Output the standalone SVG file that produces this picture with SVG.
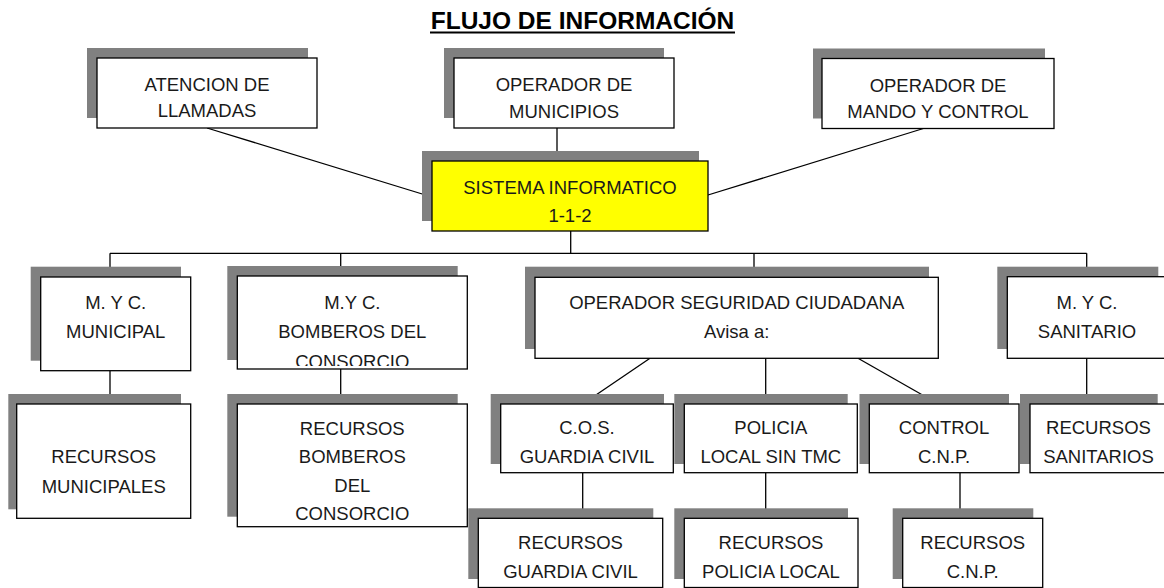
<svg xmlns="http://www.w3.org/2000/svg" width="1164" height="588" viewBox="0 0 1164 588">
<defs>
<style>
.sh{fill:#808080;stroke:none}
.bx{fill:#fff;stroke:#000;stroke-width:1.3}
.yl{fill:#ffff00;stroke:#000;stroke-width:1.3}
.t{font-family:"Liberation Sans",Arial,sans-serif;font-size:18.5px;fill:#1a1a1a;text-anchor:middle}
.ttl{font-family:"Liberation Sans",Arial,sans-serif;font-size:24.5px;font-weight:bold;fill:#000;text-anchor:middle}
.ln{stroke:#000;stroke-width:1.3;fill:none}
</style>
<clipPath id="clipBomb"><rect x="238" y="277" width="229" height="89"/></clipPath>
</defs>
<rect width="1164" height="588" fill="#fff"/>

<g id="title">
<text class="ttl" x="582.5" y="28.5">FLUJO DE INFORMACIÓN</text>
<line x1="430" y1="32.5" x2="735" y2="32.5" stroke="#000" stroke-width="2"/>
</g>

<g id="connectors">
<line class="ln" x1="207" y1="128" x2="432" y2="197"/>
<line class="ln" x1="557" y1="128" x2="557" y2="161"/>
<line class="ln" x1="925" y1="128" x2="708" y2="195"/>
<line class="ln" x1="570.7" y1="231" x2="570.7" y2="253.3"/>
<line class="ln" x1="110" y1="253.3" x2="1086.7" y2="253.3"/>
<line class="ln" x1="110" y1="253.3" x2="110" y2="277"/>
<line class="ln" x1="340.7" y1="253.3" x2="340.7" y2="276"/>
<line class="ln" x1="754" y1="253.3" x2="754" y2="277.3"/>
<line class="ln" x1="1086.7" y1="253.3" x2="1086.7" y2="276.7"/>
<line class="ln" x1="110" y1="370.7" x2="110" y2="404"/>
<line class="ln" x1="340.7" y1="369" x2="340.7" y2="404"/>
<line class="ln" x1="765.7" y1="358.3" x2="765.7" y2="404"/>
<line class="ln" x1="1086.7" y1="358.3" x2="1086.7" y2="404"/>
<line class="ln" x1="650" y1="358.3" x2="582.7" y2="404"/>
<line class="ln" x1="858" y1="358.3" x2="938.3" y2="404"/>
<line class="ln" x1="582.7" y1="472.7" x2="582.7" y2="518.3"/>
<line class="ln" x1="765.7" y1="472.7" x2="765.7" y2="518.3"/>
<line class="ln" x1="960" y1="472.7" x2="960" y2="518.3"/>
</g>

<g id="atencion">
<rect class="sh" x="87" y="48" width="221" height="70"/>
<rect class="bx" x="97" y="58" width="220" height="70"/>
<text class="t" x="207" y="90.5">ATENCION DE</text>
<text class="t" x="207" y="117">LLAMADAS</text>
</g>

<g id="op-municipios">
<rect class="sh" x="444" y="48" width="220" height="70"/>
<rect class="bx" x="454" y="58" width="220" height="70"/>
<text class="t" x="564" y="91">OPERADOR DE</text>
<text class="t" x="564" y="117.5">MUNICIPIOS</text>
</g>

<g id="op-mando">
<rect class="sh" x="813" y="48.5" width="232" height="70"/>
<rect class="bx" x="822" y="58.5" width="232" height="70"/>
<text class="t" x="938" y="91.5">OPERADOR DE</text>
<text class="t" x="938" y="118">MANDO Y CONTROL</text>
</g>

<g id="sistema">
<rect class="sh" x="422" y="151" width="277" height="70"/>
<rect class="yl" x="432" y="161" width="276" height="70"/>
<text class="t" x="570" y="194">SISTEMA INFORMATICO</text>
<text class="t" x="570" y="221.5">1-1-2</text>
</g>

<g id="myc-municipal">
<rect class="sh" x="30.7" y="266.7" width="150.3" height="94"/>
<rect class="bx" x="40.7" y="277" width="150" height="93.7"/>
<text class="t" x="115.7" y="309">M. Y C.</text>
<text class="t" x="115.7" y="338.3">MUNICIPAL</text>
</g>

<g id="myc-bomberos">
<rect class="sh" x="227.3" y="266" width="230.4" height="94"/>
<rect class="bx" x="237.3" y="276" width="230" height="93"/>
<g clip-path="url(#clipBomb)">
<text class="t" x="352.3" y="308.5">M.Y C.</text>
<text class="t" x="352.3" y="338">BOMBEROS DEL</text>
<text class="t" x="352.3" y="367.5">CONSORCIO</text>
</g>
</g>

<g id="op-seguridad">
<rect class="sh" x="525" y="266.7" width="404" height="82.3"/>
<rect class="bx" x="535" y="277.3" width="403.3" height="81"/>
<text class="t" x="736.7" y="309">OPERADOR SEGURIDAD CIUDADANA</text>
<text class="t" x="736.7" y="338.3">Avisa a:</text>
</g>

<g id="myc-sanitario">
<rect class="sh" x="997.3" y="266.7" width="161" height="82.3"/>
<rect class="bx" x="1007.3" y="276.7" width="160" height="81.6"/>
<text class="t" x="1087" y="309">M. Y C.</text>
<text class="t" x="1087" y="338.3">SANITARIO</text>
</g>

<g id="rec-municipales">
<rect class="sh" x="8.3" y="394" width="172.7" height="115.3"/>
<rect class="bx" x="16.7" y="404" width="174" height="114.3"/>
<text class="t" x="103.7" y="463.3">RECURSOS</text>
<text class="t" x="103.7" y="492.7">MUNICIPALES</text>
</g>

<g id="rec-bomberos">
<rect class="sh" x="227.3" y="394" width="230.4" height="122.7"/>
<rect class="bx" x="237.3" y="404" width="230" height="122.7"/>
<text class="t" x="352.3" y="435">RECURSOS</text>
<text class="t" x="352.3" y="463.3">BOMBEROS</text>
<text class="t" x="352.3" y="491.7">DEL</text>
<text class="t" x="352.3" y="520">CONSORCIO</text>
</g>

<g id="cos-guardia">
<rect class="sh" x="490.7" y="394" width="173.3" height="70"/>
<rect class="bx" x="500.7" y="404" width="172.6" height="68.7"/>
<text class="t" x="587" y="434">C.O.S.</text>
<text class="t" x="587" y="462.7">GUARDIA CIVIL</text>
</g>

<g id="policia-local">
<rect class="sh" x="674.3" y="394" width="173.4" height="70"/>
<rect class="bx" x="684.3" y="404" width="173" height="68.7"/>
<text class="t" x="770.8" y="434">POLICIA</text>
<text class="t" x="770.8" y="462.7">LOCAL SIN TMC</text>
</g>

<g id="control-cnp">
<rect class="sh" x="859.5" y="394" width="149.5" height="70"/>
<rect class="bx" x="869.3" y="404" width="149.7" height="68.7"/>
<text class="t" x="944" y="434">CONTROL</text>
<text class="t" x="944" y="462.7">C.N.P.</text>
</g>

<g id="rec-sanitarios">
<rect class="sh" x="1020" y="394" width="137.7" height="70"/>
<rect class="bx" x="1030" y="404" width="137" height="68.7"/>
<text class="t" x="1098.5" y="434">RECURSOS</text>
<text class="t" x="1098.5" y="462.7">SANITARIOS</text>
</g>

<g id="rec-guardia">
<rect class="sh" x="468.3" y="508.3" width="185" height="70.7"/>
<rect class="bx" x="478.3" y="518.3" width="184.4" height="69.2"/>
<text class="t" x="570.5" y="549.3">RECURSOS</text>
<text class="t" x="570.5" y="578.3">GUARDIA CIVIL</text>
</g>

<g id="rec-policia">
<rect class="sh" x="674.3" y="508.3" width="173.7" height="70.7"/>
<rect class="bx" x="684.3" y="518.3" width="173.7" height="69.2"/>
<text class="t" x="771" y="549.3">RECURSOS</text>
<text class="t" x="771" y="578.3">POLICIA LOCAL</text>
</g>

<g id="rec-cnp">
<rect class="sh" x="892.7" y="508.3" width="140.6" height="70.7"/>
<rect class="bx" x="902.7" y="518.3" width="140" height="69.2"/>
<text class="t" x="972.7" y="549.3">RECURSOS</text>
<text class="t" x="972.7" y="578.3">C.N.P.</text>
</g>
</svg>
